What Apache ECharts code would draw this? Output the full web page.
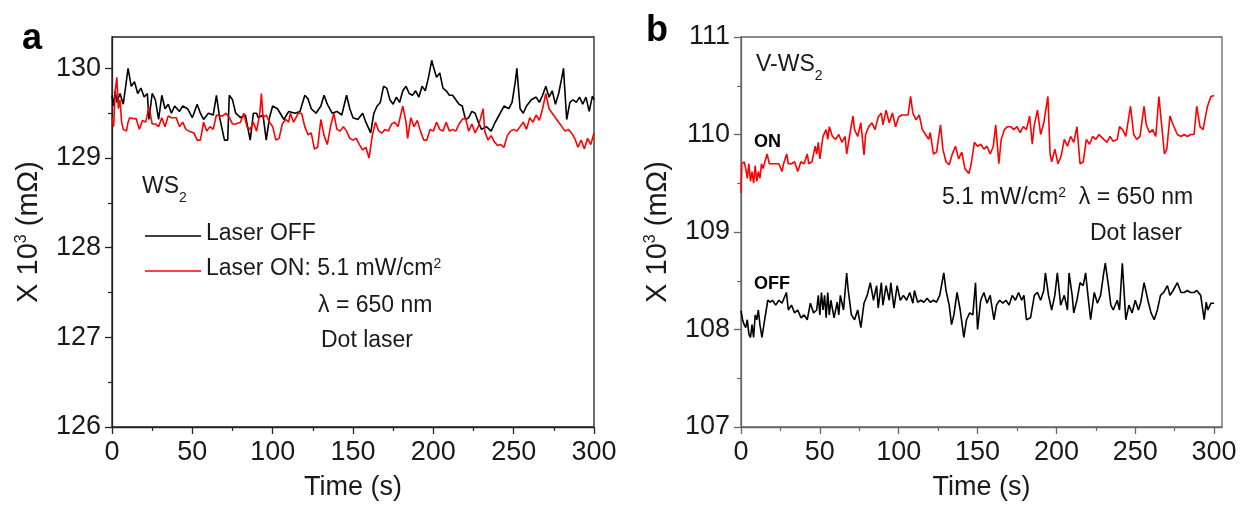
<!DOCTYPE html>
<html><head><meta charset="utf-8">
<script src="https://cdn.jsdelivr.net/npm/echarts@6/dist/echarts.min.js"></script>
<style>html,body{margin:0;padding:0;background:#fff}#c{width:1241px;height:506px}</style>
</head><body><div id="c"></div>
<script>
// ---------- Panel a (WS2) ----------
const tA_off = [0,1,2,3,5,7,10,12,14,16,18,20,22,23,25,27,29,31,33,35,37,39,42,44,47,50,53,55,57,60,63,65,67,70,72,73,75,77,80,83,86,88,90,91,94,96,98,100,103,107,110,114,117,120,122,124,127,130,132,134,137,140,143,146,148,150,153,156,158,161,163,165,167,169,171,173,175,177,179,181,183,185,187,189,191,193,195,197,199,200,202,204,206,208,210,212,214,216,218,220,222,224,226,228,230,233,236,238,241,244,247,249,251,252,254,256,258,261,264,266,268,270,272,274,276,278,280,281,283,285,287,289,291,293,295,297,299,300];
const vA_off = [129.70,129.58,129.75,129.62,129.72,129.60,130.00,129.80,129.85,129.72,129.78,129.68,129.72,129.43,129.72,129.65,129.43,129.70,129.55,129.60,129.50,129.58,129.52,129.58,129.55,129.45,129.60,129.50,129.43,129.50,129.48,129.70,129.45,129.20,129.20,129.70,129.65,129.50,129.45,129.48,129.20,129.50,129.50,129.45,129.48,129.20,129.45,129.58,129.55,129.43,129.52,129.50,129.52,129.70,129.66,129.55,129.50,129.58,129.70,129.60,129.50,129.52,129.48,129.70,129.55,129.45,129.43,129.50,129.40,129.28,129.50,129.58,129.62,129.80,129.78,129.65,129.60,129.68,129.62,129.75,129.80,129.72,129.70,129.75,129.68,129.80,129.75,129.90,130.09,130.02,129.90,129.95,129.78,129.75,129.70,129.70,129.65,129.60,129.58,129.43,129.45,129.52,129.50,129.40,129.32,129.35,129.30,129.38,129.48,129.58,129.55,129.62,129.85,130.00,129.55,129.50,129.58,129.65,129.68,129.62,129.70,129.80,129.68,129.75,129.60,129.72,129.90,130.00,129.43,129.62,129.65,129.62,129.68,129.60,129.68,129.52,129.69,129.65];

const tA_on = [0,1,2,3,4,5,6,7,9,10,11,13,15,17,19,21,23,25,27,29,31,33,35,37,40,42,44,46,48,51,53,55,57,59,61,63,65,67,69,71,73,75,77,80,82,84,86,88,90,92,93,94,96,98,100,102,104,106,108,110,111,113,116,118,120,122,124,126,128,130,132,134,136,138,140,142,144,146,148,150,152,154,156,158,160,162,164,166,168,170,172,174,176,178,181,183,184,186,188,190,192,194,196,198,200,202,204,206,208,210,212,214,216,218,220,222,224,226,228,231,232,234,236,238,240,242,244,246,248,250,252,254,256,258,260,262,264,266,268,270,272,274,276,278,280,282,284,286,288,290,292,294,296,298,300];
const vA_on = [129.45,129.35,129.75,129.90,129.55,129.65,129.40,129.32,129.30,129.40,129.45,129.44,129.44,129.32,129.42,129.40,129.57,129.38,129.38,129.35,129.45,129.35,129.47,129.45,129.45,129.35,129.40,129.32,129.30,129.28,129.20,129.20,129.40,129.30,129.35,129.32,129.48,129.47,129.47,129.50,129.45,129.38,129.38,129.40,129.50,129.35,129.32,129.40,129.30,129.50,129.72,129.45,129.48,129.40,129.35,129.20,129.22,129.38,129.43,129.40,129.50,129.40,129.50,129.50,129.35,129.26,129.28,129.10,129.12,129.43,129.25,129.15,129.35,129.50,129.32,129.30,129.35,129.30,129.22,129.20,129.22,129.15,129.09,129.12,129.00,129.25,129.40,129.30,129.28,129.32,129.30,129.38,129.40,129.35,129.58,129.40,129.22,129.45,129.35,129.42,129.30,129.20,129.20,129.32,129.30,129.40,129.32,129.30,129.40,129.30,129.32,129.30,129.38,129.43,129.45,129.30,129.38,129.28,129.35,129.55,129.30,129.20,129.25,129.18,129.14,129.15,129.12,129.25,129.30,129.32,129.30,129.35,129.40,129.32,129.45,129.40,129.48,129.42,129.55,129.72,129.55,129.50,129.45,129.40,129.35,129.30,129.32,129.28,129.22,129.12,129.20,129.10,129.22,129.15,129.28];

// ---------- Panel b (V-WS2) ----------
const tB_on = [0,0.5,1,2,3,4,5,6,7,8,9,10,11,12,13,14,16.5,18,20,22,24,26,27,29,30,32,34,36,38,40,42,43,45,47,48,49,50,52,54,55,56,58,60,62,64,66,67,69,71,72,74,76,78,79,81,83,85,87,89,90,92,94,96,98,100,102,104,106,107.5,109,111,113,115,117,119,120,122,124,126.5,128,130,132,134,136,138,140,142,144.5,146,148,150,152,154,156,158,160,161.5,163.5,165,167,169,171,173,175,177,179,181,183,184.7,186,188,190,192,194.6,196,197,199,201,203,205,207,209,211,213,215,217,219,221,223,225,227,230,232,234,236,238.6,240,242,244,247,249,251,253,255.6,257,259,261,263,265,267,268.5,270,272,274,276.7,279,281,283,285,287.3,289,291,293,295.8,298,300];
const vB_on = [109.40,109.70,109.68,109.72,109.65,109.55,109.70,109.52,109.62,109.50,109.68,109.52,109.62,109.55,109.70,109.65,109.80,109.70,109.70,109.70,109.70,109.62,109.70,109.80,109.70,109.70,109.72,109.62,109.72,109.70,109.80,109.70,109.72,109.88,109.80,109.92,109.75,109.98,110.05,109.95,110.08,109.98,109.95,110.00,109.92,109.98,109.80,110.00,110.19,110.05,109.98,110.12,109.79,110.00,110.08,110.12,110.05,110.18,110.22,110.10,110.25,110.12,110.22,110.08,110.18,110.20,110.20,110.20,110.39,110.22,110.15,110.20,110.05,110.00,109.95,110.02,109.80,109.82,110.10,109.85,109.72,109.69,109.80,109.88,109.75,109.82,109.65,109.60,109.70,109.92,109.88,109.90,109.85,109.88,109.80,109.88,110.10,109.70,109.95,110.05,110.08,110.08,110.05,110.08,110.02,110.08,110.05,110.19,109.90,110.10,110.25,110.00,110.12,110.39,109.80,109.72,109.85,109.70,109.78,109.95,109.88,109.98,109.92,110.08,109.70,109.72,109.95,109.90,109.98,109.95,110.00,109.95,109.92,109.98,109.93,109.95,110.08,110.05,109.98,110.29,110.00,109.95,109.98,110.29,110.10,110.02,110.05,109.98,110.39,110.05,109.80,109.85,110.19,110.10,110.00,109.98,110.00,109.98,110.00,110.00,110.29,110.08,110.05,110.29,110.39,110.40];

const tB_off = [0,1,2,3,4,5,6,7,8,9,10,11,12,13.3,15,17,18.6,20,22,24,26,28.8,30,32,34,36,38,40,42,44,46,48,49,50,51,52,53,54,55,56,57,59,61,62,63,65,67,68,70,72,74,76,78,80,82,84,86,87,89,90,92,94,95,97,99,101,103,105,107,109,110,112,114,116,118,120,122,124,126,128.6,130,132,133.5,135,137,139,141.3,143,145,147,148.7,150,152,154,156,158,160.4,162,164,166,168,170,172,174,176,178,179.4,181,183.6,186,188,190,192,193,195,197,199,200.6,202.7,205,207,208,210,211,213,215,217,218.5,220,221.7,224,226,228,230,231,233,234.5,236,238.6,240,241.8,244,246,248,250,252,253.5,255.6,258,260,262,264,266,268,270.4,272,274,276.7,279,281,283,285,287.3,289,291.5,293.7,295,296,298,300];
const vB_off = [108.19,108.10,108.05,108.02,108.10,107.95,107.92,108.05,107.92,108.15,108.10,108.20,108.05,107.92,108.10,108.30,108.28,108.30,108.25,108.30,108.27,108.38,108.20,108.25,108.17,108.20,108.12,108.15,108.10,108.27,108.17,108.20,108.35,108.15,108.38,108.20,108.35,108.12,108.38,108.15,108.30,108.12,108.28,108.15,108.35,108.20,108.58,108.40,108.15,108.10,108.20,108.02,108.27,108.35,108.48,108.30,108.45,108.22,108.48,108.25,108.45,108.30,108.48,108.22,108.45,108.30,108.35,108.30,108.38,108.27,108.40,108.28,108.30,108.28,108.32,108.28,108.30,108.28,108.35,108.58,108.40,108.25,108.05,108.15,108.38,108.20,107.92,108.10,108.17,108.15,108.48,108.00,108.30,108.38,108.27,108.35,108.10,108.25,108.30,108.27,108.30,108.25,108.35,108.30,108.38,108.30,108.35,108.10,108.12,108.35,108.38,108.30,108.40,108.58,108.35,108.20,108.35,108.58,108.25,108.35,108.20,108.58,108.35,108.17,108.30,108.48,108.45,108.58,108.35,108.10,108.38,108.27,108.35,108.58,108.68,108.45,108.25,108.20,108.30,108.20,108.68,108.10,108.25,108.17,108.30,108.20,108.28,108.48,108.30,108.17,108.10,108.20,108.35,108.38,108.45,108.35,108.40,108.48,108.38,108.38,108.40,108.38,108.38,108.40,108.35,108.10,108.28,108.20,108.27,108.27];

const xTicks = [0,50,100,150,200,250,300];
const xMinor = [25,75,125,175,225,275];
const yTicksA = [126,127,128,129,130];
const yMinorA = [126.5,127.5,128.5,129.5];
const yTicksB = [107,108,109,110,111];
const yMinorB = [107.5,108.5,109.5,110.5];

const zip = (t, v) => t.map((x, i) => [x, v[i]]);
const FONT = "'Liberation Sans', Arial, sans-serif";
const TXT = '#1a1a1a';

function majorX(grid, max, color) {
  return {
    type: 'value', gridIndex: grid, min: 0, max: max, interval: 50,
    axisLine: {show: true, lineStyle: {color: color, width: 1.3}},
    axisTick: {show: true, inside: false, length: 7, lineStyle: {color: color, width: 1.3}, customValues: xTicks},
    axisLabel: {show: true, customValues: xTicks, fontSize: 27, fontFamily: FONT, color: TXT, margin: 12},
    splitLine: {show: false},
    name: 'Time (s)', nameLocation: 'middle', nameGap: 47,
    nameTextStyle: {fontSize: 27, fontFamily: FONT, color: TXT}
  };
}
function minorX(grid, max, color) {
  return {
    type: 'value', gridIndex: grid, min: 0, max: max, position: 'bottom',
    axisLine: {show: false},
    axisTick: {show: true, inside: false, length: 4, lineStyle: {color: color, width: 1.2}, customValues: xMinor},
    axisLabel: {show: false}, splitLine: {show: false}
  };
}
function majorY(grid, min, max, ticks, color, gap) {
  return {
    type: 'value', gridIndex: grid, min: min, max: max, interval: 1, position: 'left',
    axisLine: {show: true, lineStyle: {color: color, width: 1.3}},
    axisTick: {show: true, inside: false, length: 7, lineStyle: {color: color, width: 1.3}, customValues: ticks},
    axisLabel: {show: true, customValues: ticks, fontSize: 27, fontFamily: FONT, color: TXT, margin: 11},
    splitLine: {show: false},
    name: '{m|X 10}{s|3}{m| (mΩ)}', nameLocation: 'middle', nameRotate: 90, nameGap: gap,
    nameTextStyle: {
      fontFamily: FONT, color: TXT,
      rich: {
        m: {fontSize: 29, fontFamily: FONT, color: TXT, lineHeight: 34, verticalAlign: 'top'},
        s: {fontSize: 16, fontFamily: FONT, color: TXT, lineHeight: 16, verticalAlign: 'top'}
      }
    }
  };
}
function minorY(grid, min, max, ticks, color) {
  return {
    type: 'value', gridIndex: grid, min: min, max: max, position: 'left',
    axisLine: {show: false},
    axisTick: {show: true, inside: false, length: 4, lineStyle: {color: color, width: 1.2}, customValues: ticks},
    axisLabel: {show: false}, splitLine: {show: false}
  };
}

const colA = '#222', colB = '#666';
const chart = echarts.init(document.getElementById('c'), null, {renderer: 'canvas'});

const richAnn = {
  m: {fontSize: 23, fontFamily: FONT, color: TXT, lineHeight: 28, verticalAlign: 'top'},
  sup: {fontSize: 14, fontFamily: FONT, color: TXT, lineHeight: 14, verticalAlign: 'top'},
  sub: {fontSize: 14, fontFamily: FONT, color: TXT, lineHeight: 14, padding: [16, 0, 0, 0], verticalAlign: 'top'}
};

function txt(left, top, text, extra) {
  return {type: 'text', left: left, top: top, z: 50,
    style: Object.assign({text: text, rich: richAnn, fill: TXT, font: '23px ' + FONT}, extra || {})};
}

chart.setOption({
  animation: false,
  backgroundColor: '#fff',
  grid: [
    {left: 112, top: 37, width: 482, height: 391, show: true, borderColor: colA, borderWidth: 1.3, backgroundColor: 'transparent'},
    {left: 741, top: 37, width: 481, height: 391, show: true, borderColor: colB, borderWidth: 1.3, backgroundColor: 'transparent'}
  ],
  xAxis: [majorX(0, 300, colA), minorX(0, 300, colA), majorX(1, 305, colB), minorX(1, 305, colB)],
  yAxis: [
    majorY(0, 126, 130.35, yTicksA, colA, 64),
    minorY(0, 126, 130.35, yMinorA, colA),
    majorY(1, 107, 111, yTicksB, colB, 64),
    minorY(1, 107, 111, yMinorB, colB)
  ],
  legend: {
    data: ['Laser OFF', 'Laser ON'],
    orient: 'vertical', left: 140, top: 217, icon: 'rect', itemWidth: 56, itemHeight: 1.6, itemGap: 12,
    formatter: n => n === 'Laser ON' ? '{m|Laser ON: 5.1 mW/cm}{sup|2}' : '{m|Laser OFF}',
    textStyle: {rich: richAnn, fontFamily: FONT, fontSize: 23, color: TXT},
    selectedMode: false
  },
  series: [
    {name: 'Laser OFF', type: 'line', xAxisIndex: 0, yAxisIndex: 0, data: zip(tA_off, vA_off), symbol: 'none', color: '#000', lineStyle: {color: '#000', width: 1.6}},
    {name: 'Laser ON', type: 'line', xAxisIndex: 0, yAxisIndex: 0, data: zip(tA_on, vA_on), symbol: 'none', color: '#ff0000', lineStyle: {color: '#ff0000', width: 1.6}},
    {name: 'V-WS2 OFF', type: 'line', xAxisIndex: 2, yAxisIndex: 2, data: zip(tB_off, vB_off), symbol: 'none', color: '#000', lineStyle: {color: '#000', width: 1.6}},
    {name: 'V-WS2 ON', type: 'line', xAxisIndex: 2, yAxisIndex: 2, data: zip(tB_on, vB_on), symbol: 'none', color: '#ff0000', lineStyle: {color: '#ff0000', width: 1.6}}
  ],
  graphic: [
    {type: 'text', left: 22, top: 21, z: 50, style: {text: 'a', font: 'bold 36px ' + FONT, fill: '#000'}},
    {type: 'text', left: 646, top: 13, z: 50, style: {text: 'b', font: 'bold 36px ' + FONT, fill: '#000'}},
    txt(142, 175, '{m|WS}{sub|2}'),
    txt(318, 294, '{m|λ = 650 nm}'),
    txt(321, 329, '{m|Dot laser}'),
    txt(756, 53, '{m|V-WS}{sub|2}'),
    {type: 'text', left: 754, top: 133, z: 50, style: {text: 'ON', font: 'bold 18px ' + FONT, fill: '#000'}},
    {type: 'text', left: 754, top: 275, z: 50, style: {text: 'OFF', font: 'bold 18px ' + FONT, fill: '#000'}},
    txt(942, 186, '{m|5.1 mW/cm}{sup|2}{m|  λ = 650 nm}'),
    txt(1090, 222, '{m|Dot laser}')
  ]
});
</script></body></html>
